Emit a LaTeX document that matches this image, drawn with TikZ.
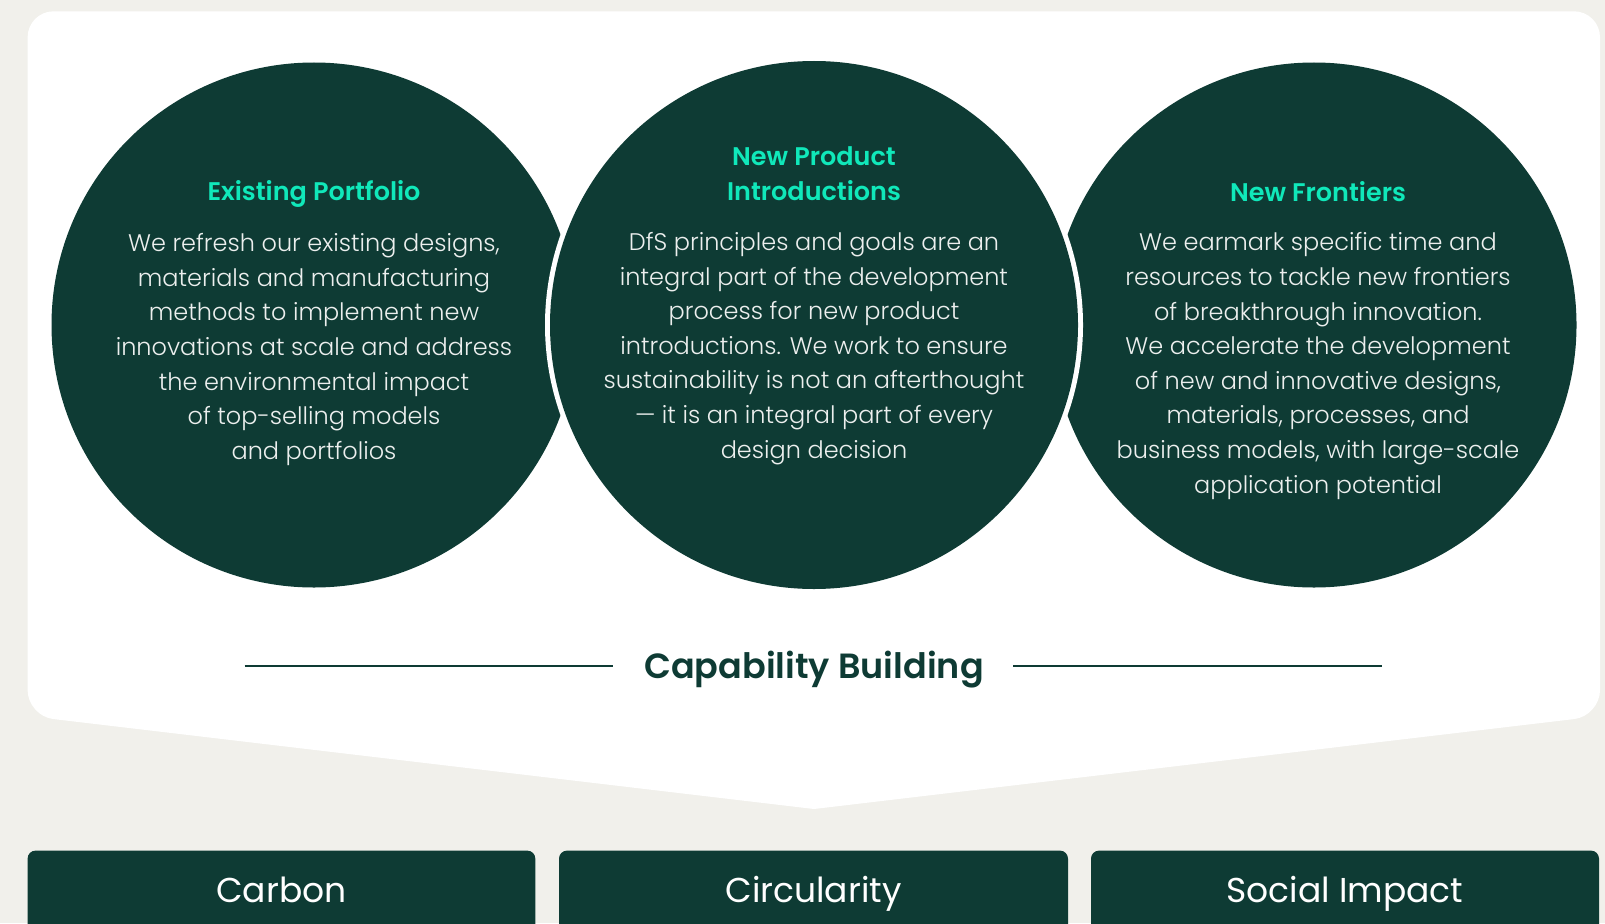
\documentclass[tikz,border=0pt]{standalone}
\usepackage{fontspec}
\setmainfont{Poppins}
\newfontfamily\bodyfont{Poppins Light}
\newfontfamily\headfont{Poppins SemiBold}
\newfontfamily\regfont{Poppins}
\definecolor{bg}{HTML}{F1F0EB}
\definecolor{dkgreen}{HTML}{0E3B34}
\definecolor{mint}{HTML}{10E8BA}
\definecolor{bodytxt}{HTML}{ECEFEE}
\tikzset{
  circ/.style={circle, fill=dkgreen, minimum size=525pt, inner sep=0pt},
  head/.style={text=mint, align=center, font=\headfont\fontsize{25.5}{34.6}\selectfont},
  body/.style={text=bodytxt, align=center, font=\bodyfont\fontsize{24}{34.6}\selectfont},
  pillar/.style={fill=dkgreen, rounded corners=8pt},
  pillartext/.style={text=white, anchor=base, font=\regfont\fontsize{34.5}{38}\selectfont},
  rule/.style={draw=dkgreen, line width=1.2pt}
}
\begin{document}
\begin{tikzpicture}[x=1pt,y=-1pt]
\useasboundingbox (0,0) rectangle (1605,923);
\clip (0,0) rectangle (1605,923);
\fill[bg] (0,0) rectangle (1605,923);
% white panel
\fill[white, rounded corners=26pt] (814,809) -- (27.6,716) -- (27.6,11.3) -- (1600,11.3) -- (1600,716) -- (814,809);
% circles
\node[circ] (c1) at (314,325) {};
\node[circ] (c3) at (1314,325) {};
\node[circle, fill=white, minimum size=538pt, inner sep=0pt] (c2ring) at (814,325) {};
\node[circ, minimum size=528pt] (c2) at (814,325) {};
% headings
\node[head] (h1) at (314,194.4) {Existing Portfolio};
\node[head] (h2) at (814,173.5) {New Product\\Introductions};
\node[head] (h3) at (1318,191.4) {New Frontiers};
% bodies
\node[body] (b1) at (314,349.5) {We refresh our existing designs,\\materials and manufacturing\\methods to implement new\\innovations at scale and address\\the environmental impact\\of top-selling models\\and portfolios};
\node[body] (b2) at (814,348.5) {DfS principles and goals are an\\integral part of the development\\process for new product\\introductions. We work to ensure\\sustainability is not an afterthought\\— it is an integral part of every\\design decision};
\node[body] (b3) at (1318,366) {We earmark specific time and\\resources to tackle new frontiers\\of breakthrough innovation.\\We accelerate the development\\of new and innovative designs,\\materials, processes, and\\business models, with large-scale\\application potential};
% capability building
\node[text=dkgreen, anchor=base, font=\headfont\fontsize{35}{40}\selectfont] (cap) at (814,678) {Capability Building};
\coordinate (l1) at (244.6,666);
\coordinate (l2) at (613,666);
\coordinate (r1) at (1013,666);
\coordinate (r2) at (1382,666);
\draw[rule] (l1) -- (l2);
\draw[rule] (r1) -- (r2);
% pillars
\fill[pillar] (27.6,850.6) rectangle (535.3,960);
\fill[pillar] (559,850.6) rectangle (1068,960);
\fill[pillar] (1091,850.6) rectangle (1599,960);
\node[pillartext] (p1) at (281.5,902.5) {Carbon};
\node[pillartext] (p2) at (813.5,902.5) {Circularity};
\node[pillartext] (p3) at (1345,902.5) {Social Impact};
\end{tikzpicture}
\end{document}
